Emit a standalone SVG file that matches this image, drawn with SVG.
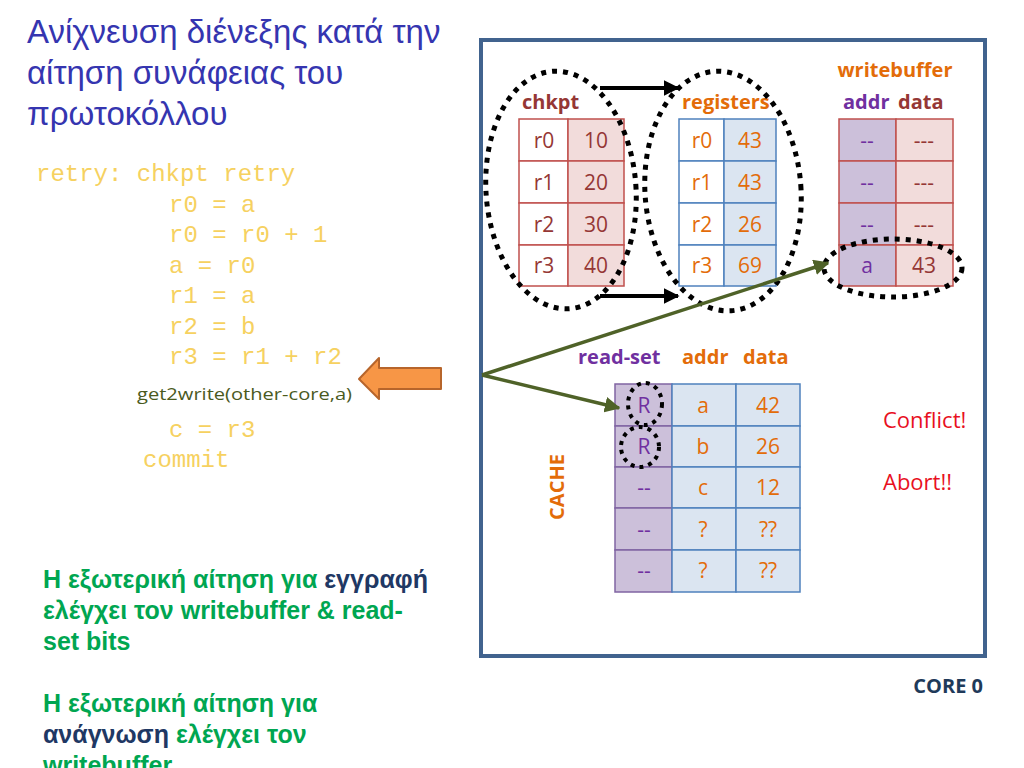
<svg xmlns="http://www.w3.org/2000/svg" width="1024" height="768" viewBox="0 0 1024 768">
<defs>
<style>
.title{font-family:"Liberation Sans",Arial,sans-serif;font-size:33px;fill:#3535b0}
.code{font-family:"Liberation Mono","Courier New",monospace;font-size:24px;fill:#f6d160}
.cal{font-family:"Open Sans","Liberation Sans",sans-serif}
.cell{font-family:"Open Sans","Liberation Sans",sans-serif;font-size:21px;text-anchor:middle}
.hdr{font-family:"Open Sans","Liberation Sans",sans-serif;font-size:20px;font-weight:bold}
.note{font-family:"Liberation Sans",Arial,sans-serif;font-size:25px;font-weight:bold;fill:#00a651}
.dk{fill:#1f3864}
.dot{fill:none;stroke:#000;stroke-width:5;stroke-dasharray:5 6}
.pk{fill:#f2dcdb;stroke:#c0504d;stroke-width:1.5}
.wh{fill:#fff;stroke:#c0504d;stroke-width:1.5}
.whb{fill:#fff;stroke:#4f81bd;stroke-width:1.5}
.bl{fill:#dbe5f1;stroke:#4f81bd;stroke-width:1.5}
.pu{fill:#ccc0da;stroke:#c0504d;stroke-width:1.5}
.pub{fill:#ccc0da;stroke:#8064a2;stroke-width:1.5}
.red{fill:#953735}
.org{fill:#e36c09}
.pur{fill:#7030a0}
</style>
<marker id="blk" viewBox="0 0 10 10" refX="9" refY="5" markerWidth="4" markerHeight="4" orient="auto" markerUnits="strokeWidth">
<path d="M0,0 L10,5 L0,10 z" fill="#000"/>
</marker>
<marker id="grn" viewBox="0 0 10 10" refX="9" refY="5" markerWidth="4.5" markerHeight="4.5" orient="auto" markerUnits="strokeWidth">
<path d="M0,0 L10,5 L0,10 z" fill="#4f6228"/>
</marker>
</defs>
<rect width="1024" height="768" fill="#fff"/>

<g id="title">
<text class="title" x="27" y="43">Ανίχνευση διένεξης κατά την</text>
<text class="title" x="27" y="84">αίτηση συνάφειας του</text>
<text class="title" x="27" y="125">πρωτοκόλλου</text>
</g>

<g id="code">
<text class="code" x="36" y="181" xml:space="preserve">retry: chkpt retry</text>
<text class="code" x="169" y="212">r0 = a</text>
<text class="code" x="169" y="242">r0 = r0 + 1</text>
<text class="code" x="169" y="273">a = r0</text>
<text class="code" x="169" y="303">r1 = a</text>
<text class="code" x="169" y="334">r2 = b</text>
<text class="code" x="169" y="364">r3 = r1 + r2</text>
<text class="cal" x="137" y="400" font-size="17" fill="#4a5a1e" textLength="215" lengthAdjust="spacingAndGlyphs">get2write(other-core,a)</text>
<text class="code" x="169" y="437">c = r3</text>
<text class="code" x="143" y="467">commit</text>
</g>

<g id="orange-arrow">
<path d="M441,368 L379,368 L379,358 L359,379 L379,399 L379,389 L441,389 Z" fill="#f79646" stroke="#b7652b" stroke-width="2" stroke-linejoin="round"/>
</g>

<g id="core">
<rect x="481" y="40" width="504" height="616" fill="#fff" stroke="#41638e" stroke-width="4"/>
</g>

<g id="chkpt">
<text class="hdr red" x="522" y="109">chkpt</text>
<rect class="wh" x="519" y="119" width="49" height="42"/><rect class="pk" x="568" y="119" width="56" height="42"/>
<rect class="wh" x="519" y="161" width="49" height="42"/><rect class="pk" x="568" y="161" width="56" height="42"/>
<rect class="wh" x="519" y="203" width="49" height="42"/><rect class="pk" x="568" y="203" width="56" height="42"/>
<rect class="wh" x="519" y="245" width="49" height="41"/><rect class="pk" x="568" y="245" width="56" height="41"/>
<text class="cell red" x="544" y="148">r0</text><text class="cell red" x="596" y="148">10</text>
<text class="cell red" x="544" y="190">r1</text><text class="cell red" x="596" y="190">20</text>
<text class="cell red" x="544" y="232">r2</text><text class="cell red" x="596" y="232">30</text>
<text class="cell red" x="544" y="273">r3</text><text class="cell red" x="596" y="273">40</text>
</g>

<g id="registers">
<text class="hdr org" x="682" y="109">registers</text>
<rect class="whb" x="679" y="119" width="45" height="42"/><rect class="bl" x="724" y="119" width="52" height="42"/>
<rect class="whb" x="679" y="161" width="45" height="42"/><rect class="bl" x="724" y="161" width="52" height="42"/>
<rect class="whb" x="679" y="203" width="45" height="42"/><rect class="bl" x="724" y="203" width="52" height="42"/>
<rect class="whb" x="679" y="245" width="45" height="41"/><rect class="bl" x="724" y="245" width="52" height="41"/>
<text class="cell org" x="702" y="148">r0</text><text class="cell org" x="750" y="148">43</text>
<text class="cell org" x="702" y="190">r1</text><text class="cell org" x="750" y="190">43</text>
<text class="cell org" x="702" y="232">r2</text><text class="cell org" x="750" y="232">26</text>
<text class="cell org" x="702" y="273">r3</text><text class="cell org" x="750" y="273">69</text>
</g>

<g id="writebuffer">
<text class="hdr org" x="895" y="77" text-anchor="middle">writebuffer</text>
<text class="hdr pur" x="843" y="109">addr</text><text class="hdr red" x="898" y="109">data</text>
<rect class="pu" x="839" y="119" width="57" height="42"/><rect class="pk" x="896" y="119" width="57" height="42"/>
<rect class="pu" x="839" y="161" width="57" height="42"/><rect class="pk" x="896" y="161" width="57" height="42"/>
<rect class="pu" x="839" y="203" width="57" height="42"/><rect class="pk" x="896" y="203" width="57" height="42"/>
<rect class="pu" x="839" y="245" width="57" height="41"/><rect class="pk" x="896" y="245" width="57" height="41"/>
<text class="cell pur" x="867" y="148">--</text><text class="cell red" x="924" y="148">---</text>
<text class="cell pur" x="867" y="190">--</text><text class="cell red" x="924" y="190">---</text>
<text class="cell pur" x="867" y="232">--</text><text class="cell red" x="924" y="232">---</text>
<text class="cell pur" x="867" y="273">a</text><text class="cell red" x="924" y="273">43</text>
</g>

<g id="cache">
<text class="hdr pur" x="578" y="364">read-set</text>
<text class="hdr org" x="682" y="364">addr</text>
<text class="hdr org" x="743" y="364">data</text>
<text class="hdr org" transform="translate(564,487) rotate(-90)" text-anchor="middle" font-size="21">CACHE</text>
<rect class="pub" x="615" y="384" width="57" height="42"/><rect class="bl" x="672" y="384" width="64" height="42"/><rect class="bl" x="736" y="384" width="64" height="42"/>
<rect class="pub" x="615" y="426" width="57" height="41"/><rect class="bl" x="672" y="426" width="64" height="41"/><rect class="bl" x="736" y="426" width="64" height="41"/>
<rect class="pub" x="615" y="467" width="57" height="41"/><rect class="bl" x="672" y="467" width="64" height="41"/><rect class="bl" x="736" y="467" width="64" height="41"/>
<rect class="pub" x="615" y="508" width="57" height="42"/><rect class="bl" x="672" y="508" width="64" height="42"/><rect class="bl" x="736" y="508" width="64" height="42"/>
<rect class="pub" x="615" y="550" width="57" height="42"/><rect class="bl" x="672" y="550" width="64" height="42"/><rect class="bl" x="736" y="550" width="64" height="42"/>
<text class="cell pur" x="644" y="413">R</text><text class="cell org" x="703" y="413">a</text><text class="cell org" x="768" y="413">42</text>
<text class="cell pur" x="644" y="454">R</text><text class="cell org" x="703" y="454">b</text><text class="cell org" x="768" y="454">26</text>
<text class="cell pur" x="644" y="495">--</text><text class="cell org" x="703" y="495">c</text><text class="cell org" x="768" y="495">12</text>
<text class="cell pur" x="644" y="537">--</text><text class="cell org" x="703" y="537">?</text><text class="cell org" x="768" y="537">??</text>
<text class="cell pur" x="644" y="578">--</text><text class="cell org" x="703" y="578">?</text><text class="cell org" x="768" y="578">??</text>
</g>

<g id="status">
<text class="cal" x="883" y="428" font-size="22" fill="#e8101e">Conflict!</text>
<text class="cal" x="883" y="490" font-size="22" fill="#e8101e">Abort!!</text>
<text class="hdr" x="983" y="693" text-anchor="end" font-size="22" fill="#1f3a5a">CORE 0</text>
</g>

<g id="highlights">
<ellipse class="dot" cx="561" cy="190" rx="75" ry="119" transform="rotate(-4 561 190)"/>
<ellipse class="dot" cx="723" cy="191" rx="78" ry="120" transform="rotate(-4 723 191)"/>
<ellipse class="dot" cx="893" cy="268" rx="69" ry="29"/>
<ellipse cx="645" cy="404" rx="17" ry="21" fill="none" stroke="#000" stroke-width="4" stroke-dasharray="4 5"/>
<ellipse cx="640" cy="447" rx="19" ry="20" fill="none" stroke="#000" stroke-width="4" stroke-dasharray="4 5"/>
</g>

<g id="connectors">
<line x1="600" y1="88" x2="678" y2="88" stroke="#000" stroke-width="4" marker-end="url(#blk)"/>
<line x1="600" y1="296" x2="678" y2="296" stroke="#000" stroke-width="4" marker-end="url(#blk)"/>
<line x1="482" y1="375" x2="828" y2="263" stroke="#4f6228" stroke-width="3.5" marker-end="url(#grn)"/>
<line x1="482" y1="375" x2="619" y2="408" stroke="#4f6228" stroke-width="3.5" marker-end="url(#grn)"/>
</g>

<g id="notes">
<text class="note" x="43" y="588">Η εξωτερική αίτηση για <tspan class="dk">εγγραφή</tspan></text>
<text class="note" x="43" y="619">ελέγχει τον writebuffer &amp; read-</text>
<text class="note" x="43" y="650">set bits</text>
<text class="note" x="43" y="712">Η εξωτερική αίτηση για</text>
<text class="note" x="43" y="743"><tspan class="dk">ανάγνωση</tspan> ελέγχει τον</text>
<text class="note" x="43" y="774">writebuffer</text>
</g>
</svg>
